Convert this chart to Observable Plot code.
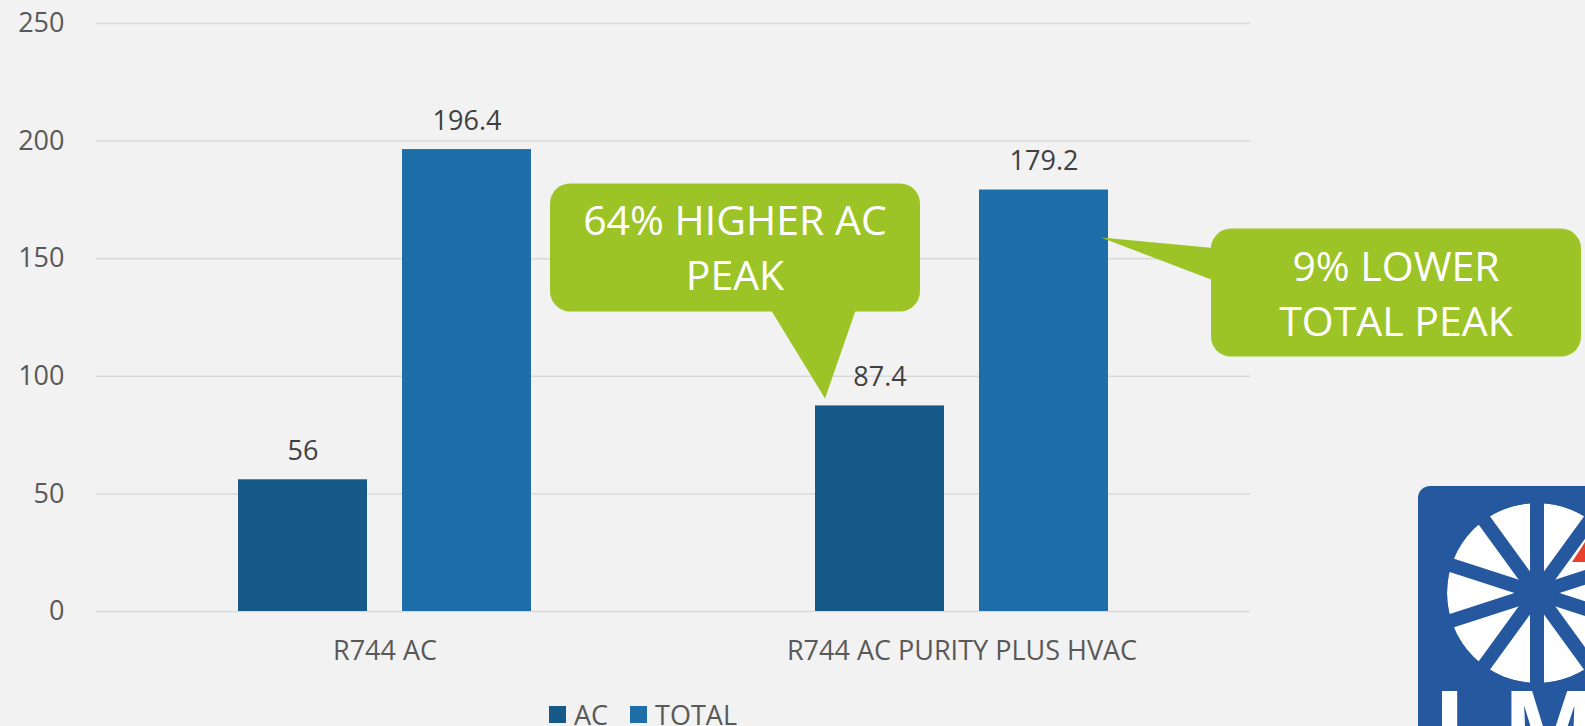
<!DOCTYPE html>
<html><head><meta charset="utf-8">
<script src="https://cdn.jsdelivr.net/npm/d3@7"></script>
<script src="https://cdn.jsdelivr.net/npm/@observablehq/plot@0.6"></script>
<style>
html,body{margin:0;padding:0;background:#F2F2F2;width:1585px;height:726px;overflow:hidden;font-family:"Open Sans",sans-serif;}
#wrap{position:relative;width:1585px;height:726px;}
#chart{position:absolute;left:0;top:0;}
#legend{position:absolute;left:549px;top:696px;}
#legend svg{margin-right:8px !important;}
#legend span{margin-right:22px !important;}
#logo{position:absolute;left:0;top:0;pointer-events:none;}
</style></head><body>
<div id="wrap"><div id="chart"></div><div id="legend"></div><svg id="logo" width="1585" height="726"></svg></div>
<script>
const categories = ["R744 AC", "R744 AC PURITY PLUS HVAC"];
const series = ["AC", "TOTAL"];
const acValues = [56, 87.4];
const totalValues = [196.4, 179.2];
const yTicks = [0, 50, 100, 150, 200, 250];
const seriesColors = ["#175A8A", "#1E6FA9"];
const calloutTexts = [["64% HIGHER AC", "PEAK"], ["9% LOWER", "TOTAL PEAK"]];
const calloutColor = "#9DC427";

const data = categories.flatMap((c, i) => [
  {category: c, series: series[0], value: acValues[i]},
  {category: c, series: series[1], value: totalValues[i]}
]);

const plot = Plot.plot({
  width: 1585, height: 680,
  marginLeft: 95, marginRight: 335, marginTop: 23, marginBottom: 69,
  style: {background: "#F2F2F2", fontFamily: "'Open Sans', sans-serif", fontSize: "27px", color: "#595959", overflow: "visible"},
  fx: {domain: categories, padding: 0, label: null},
  x: {domain: series, paddingInner: 0.213, paddingOuter: 0.862, axis: null},
  y: {domain: [0, 250], label: null},
  color: {domain: series, range: seriesColors},
  marks: [
    Plot.gridY(yTicks, {stroke: "#D9D9D9", strokeOpacity: 1, strokeWidth: 1.5}),
    Plot.axisY(yTicks, {tickSize: 0, tickPadding: 32, fontSize: 27, label: null}),
    Plot.axisFx({anchor: "bottom", tickSize: 0, tickPadding: 29, fontSize: 27, label: null}),
    Plot.barY(data, {fx: "category", x: "series", y: "value", fill: "series"}),
    Plot.text(data, {fx: "category", x: "series", y: "value", text: d => String(d.value), lineAnchor: "bottom", dy: -20, fontSize: 27, fill: "#404040"})
  ]
});
document.getElementById("chart").appendChild(plot);

// callouts anchored on the bars via the plot's scales
const fxS = plot.scale("fx"), xS = plot.scale("x"), yS = plot.scale("y");
const x0 = Math.min(...xS.range);
const bw = xS.bandwidth;
const barLeft = (cat, s) => fxS.apply(cat) + xS.apply(s) - x0;
const svg = d3.select(plot);
const g = svg.append("g").attr("font-family", "'Open Sans', sans-serif");

function drawBox(left, top, lines) {
  g.append("rect").attr("x", left).attr("y", top).attr("width", 370).attr("height", 128).attr("rx", 20).attr("fill", calloutColor);
  lines.forEach((t, i) => g.append("text").attr("x", left + 185).attr("y", top + 52 + i * 55)
    .attr("text-anchor", "middle").attr("fill", "white").attr("font-size", 41).text(t));
}
// callout 1 -> AC bar of second group
{
  const tx = barLeft(categories[1], series[0]) + 10, ty = yS.apply(acValues[1]) - 7;
  const left = tx - 275, top = ty - 215;
  g.append("polygon").attr("points", `${left + 217},${top + 120} ${left + 308},${top + 120} ${tx},${ty}`).attr("fill", calloutColor);
  drawBox(left, top, calloutTexts[0]);
}
// callout 2 -> TOTAL bar of second group
{
  const tx = barLeft(categories[1], series[1]) + bw - 7, ty = yS.apply(totalValues[1]) + 48;
  const left = tx + 110, top = ty - 9;
  g.append("polygon").attr("points", `${left + 8},${top + 20} ${left + 8},${top + 54} ${tx},${ty}`).attr("fill", calloutColor);
  drawBox(left, top, calloutTexts[1]);
}

// legend
const legend = Plot.legend({
  color: {type: "ordinal", domain: series, range: seriesColors},
  legend: "swatches", swatchSize: 17,
  style: {fontSize: "27px", fontFamily: "'Open Sans', sans-serif", color: "#595959", background: "transparent"}
});
document.getElementById("legend").appendChild(legend);

// logo decoration
const logo = d3.select("#logo");
const blue = "#25589E";
logo.append("rect").attr("x", 1418).attr("y", 486).attr("width", 220).attr("height", 300).attr("rx", 12).attr("fill", blue);
const cx = 1537, cy = 593, r = 90;
logo.append("circle").attr("cx", cx).attr("cy", cy).attr("r", r).attr("fill", "white");
for (let k = 0; k < 5; k++) {
  const a = (18 + 36 * k) * Math.PI / 180;
  logo.append("line").attr("x1", cx - Math.cos(a) * 100).attr("y1", cy + Math.sin(a) * 100)
    .attr("x2", cx + Math.cos(a) * 100).attr("y2", cy - Math.sin(a) * 100)
    .attr("stroke", blue).attr("stroke-width", 14);
}
logo.append("circle").attr("cx", cx).attr("cy", cy).attr("r", r + 6).attr("fill", "none").attr("stroke", blue).attr("stroke-width", 12);
logo.append("polygon").attr("points", "1572,562 1585,542 1585,562").attr("fill", "#E8402A");
logo.append("text").attr("x", 1433).attr("y", 763).attr("font-family", "'Open Sans', sans-serif").attr("font-weight", 700)
  .attr("font-size", 100).attr("letter-spacing", 13).attr("fill", "white").text("LMI");
</script>
</body></html>
